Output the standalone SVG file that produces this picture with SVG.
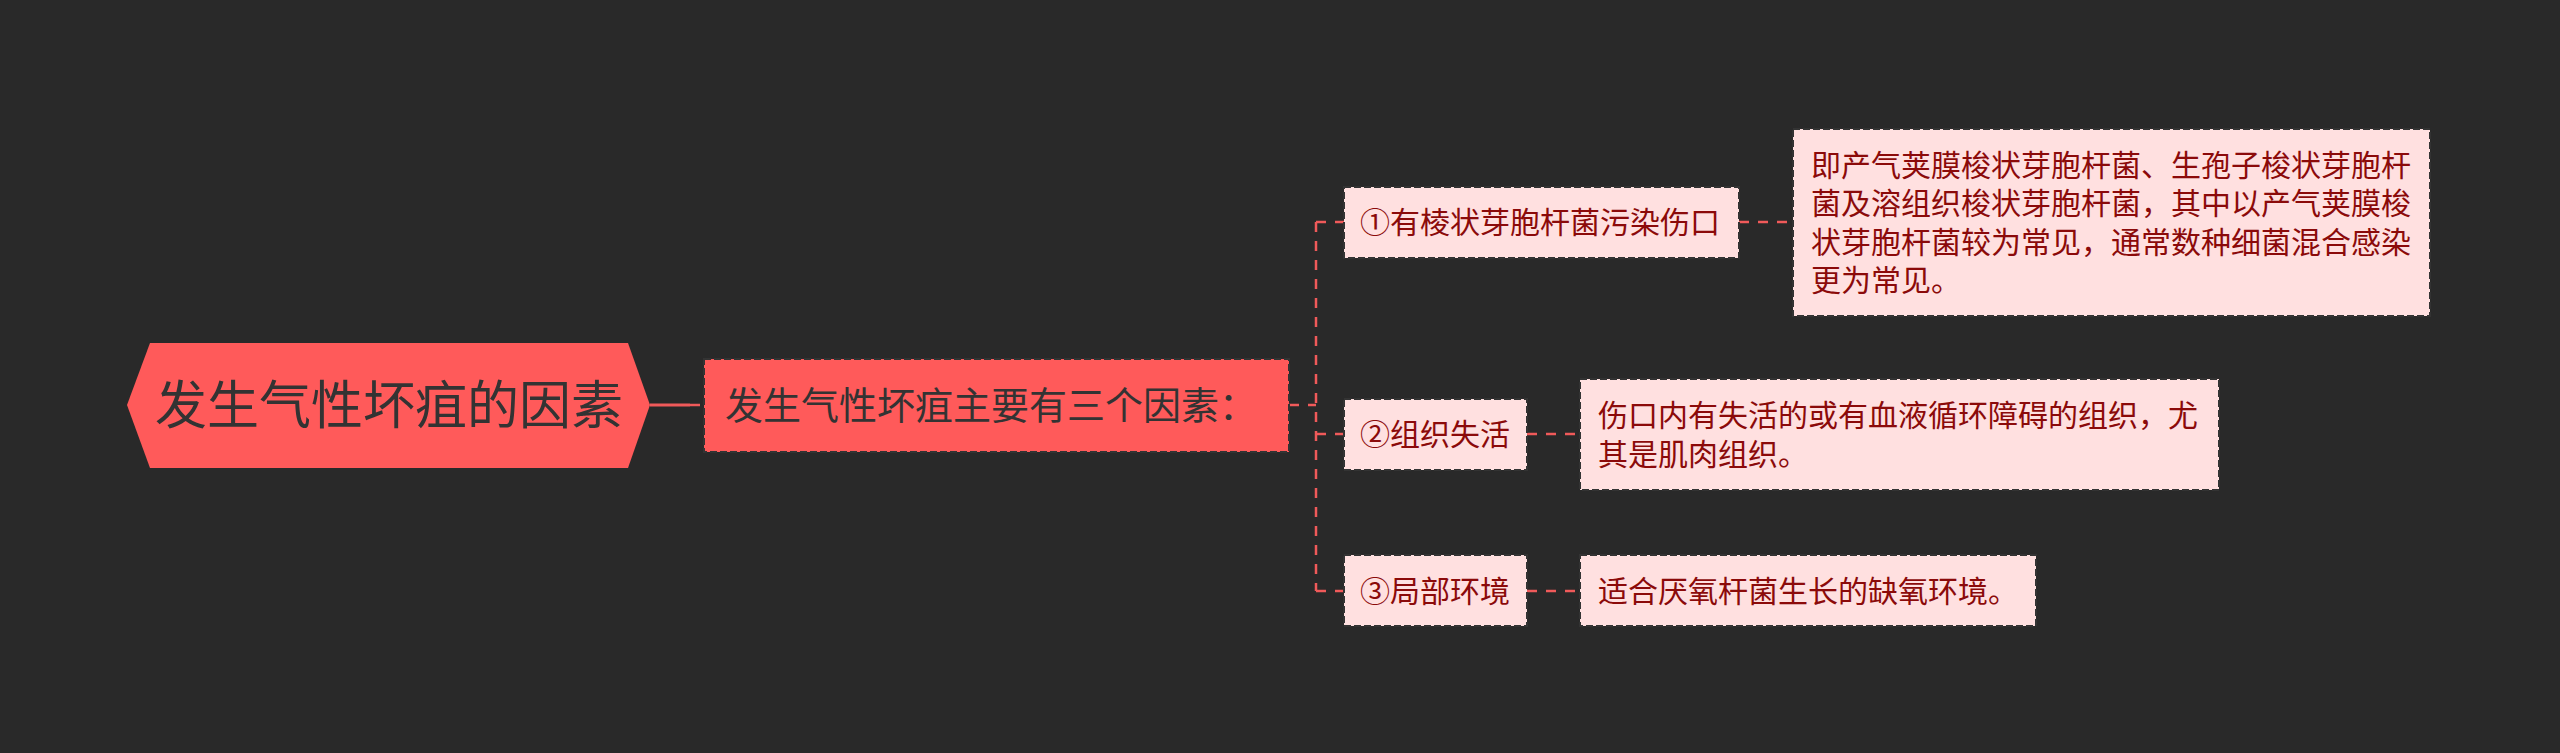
<svg xmlns="http://www.w3.org/2000/svg" width="2560" height="753" viewBox="0 0 2560 753">
<style>
.bg{fill:#292929}
.t{font-family:"Noto Sans CJK SC","Noto Sans",sans-serif}
.root{fill:#FF5A5A}
.rootT{fill:#333333;font-size:52px}
.main{fill:#FF5A5A;stroke:#333333;stroke-width:2;stroke-dasharray:7 3}
.mainT{fill:#333333;font-size:38px}
.leaf{fill:#FFE0E0;stroke:#333333;stroke-width:2;stroke-dasharray:7 3}
.leafT{fill:#8B0A0A;font-size:30px}
.c{fill:none;stroke:#F05A5A;stroke-width:2.5;stroke-dasharray:10 9}
.cs{fill:none;stroke:#F05A5A;stroke-width:3}
</style>
<rect class="bg" x="0" y="0" width="2560" height="753"/>
<g id="connectors">
<line class="cs" x1="650" y1="405" x2="690" y2="405"/>
<line class="c" x1="690" y1="405" x2="704" y2="405"/>
<line class="c" x1="1289" y1="405" x2="1316" y2="405"/>
<line class="c" x1="1316" y1="222" x2="1316" y2="591"/>
<line class="c" x1="1316" y1="222" x2="1344" y2="222"/>
<line class="c" x1="1316" y1="434" x2="1344" y2="434"/>
<line class="c" x1="1316" y1="591" x2="1344" y2="591"/>
<line class="c" x1="1739" y1="222" x2="1793" y2="222"/>
<line class="c" x1="1527" y1="434" x2="1580" y2="434"/>
<line class="c" x1="1527" y1="591" x2="1580" y2="591"/>
</g>
<g id="root">
<polygon class="root" points="127,405 150,343 628,343 650,405 628,468 150,468"/>
<text class="t rootT" x="155" y="424">发生气性坏疽的因素</text>
</g>
<g id="main">
<rect class="main" x="704" y="359" width="585" height="93"/>
<text class="t mainT" x="725" y="419">发生气性坏疽主要有三个因素：</text>
</g>
<g id="c1">
<rect class="leaf" x="1344" y="187" width="395" height="71"/>
<text class="t leafT" x="1360" y="233">①有棱状芽胞杆菌污染伤口</text>
</g>
<g id="d1">
<rect class="leaf" x="1793" y="129" width="637" height="187"/>
<text class="t leafT" x="1811" y="176">即产气荚膜梭状芽胞杆菌、生孢子梭状芽胞杆</text>
<text class="t leafT" x="1811" y="214">菌及溶组织梭状芽胞杆菌，其中以产气荚膜梭</text>
<text class="t leafT" x="1811" y="253">状芽胞杆菌较为常见，通常数种细菌混合感染</text>
<text class="t leafT" x="1811" y="291">更为常见。</text>
</g>
<g id="c2">
<rect class="leaf" x="1344" y="399" width="183" height="71"/>
<text class="t leafT" x="1360" y="445">②组织失活</text>
</g>
<g id="d2">
<rect class="leaf" x="1580" y="379" width="639" height="111"/>
<text class="t leafT" x="1598" y="426">伤口内有失活的或有血液循环障碍的组织，尤</text>
<text class="t leafT" x="1598" y="465">其是肌肉组织。</text>
</g>
<g id="c3">
<rect class="leaf" x="1344" y="555" width="183" height="71"/>
<text class="t leafT" x="1360" y="602">③局部环境</text>
</g>
<g id="d3">
<rect class="leaf" x="1580" y="555" width="456" height="71"/>
<text class="t leafT" x="1598" y="602">适合厌氧杆菌生长的缺氧环境。</text>
</g>
</svg>
